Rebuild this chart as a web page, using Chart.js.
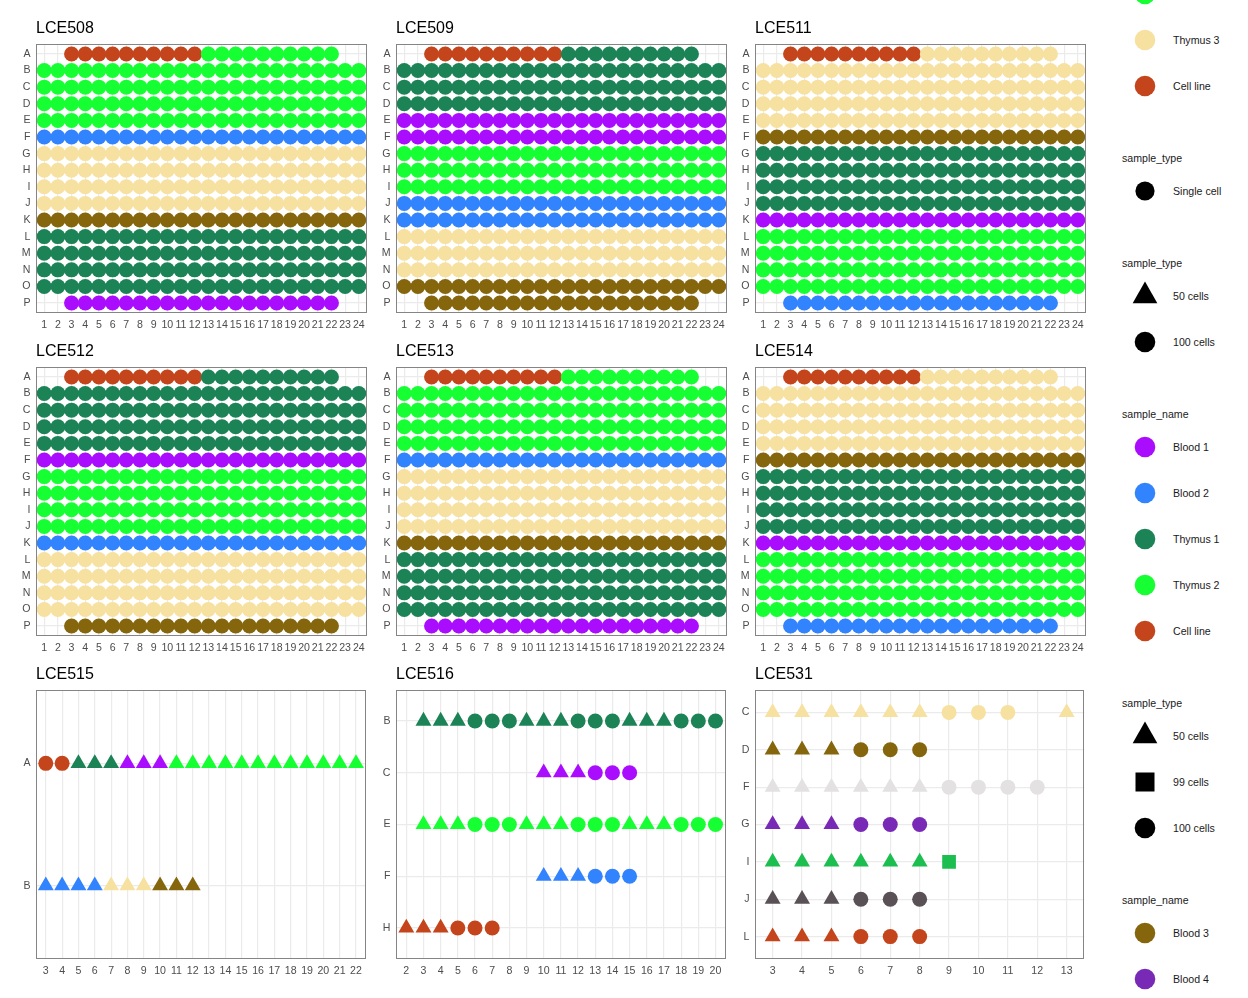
<!DOCTYPE html>
<html><head><meta charset="utf-8">
<script src="https://cdn.jsdelivr.net/npm/chart.js@4.4.1/dist/chart.umd.min.js"></script>
<style>
html,body{margin:0;padding:0;background:#fff;width:1248px;height:998px;overflow:hidden;position:relative;font-family:"Liberation Sans",Arial,sans-serif;}
.panel{position:absolute;}
.lg-title,.lg-text{position:absolute;font-size:10.6px;color:#1a1a1a;line-height:14px;height:14px;white-space:nowrap;}
svg.lg{position:absolute;overflow:visible;}
</style></head><body>
<script>
// ---------------- data ----------------
const sampleNames  = ['Blood 1','Blood 2','Blood 3','Blood 4','Thymus 1','Thymus 2','Thymus 3','Cell line','Sample F','Sample I','Sample J'];
const sampleColors = ['#AA0DFE','#3283FE','#85660D','#782AB6','#1C8356','#16FF32','#F7E1A0','#C4451C','#E4E1E3','#1CBE4F','#5A5156'];
const sampleTypes  = ['Single cell','50 cells','99 cells','100 cells'];
const typeShapes   = ['circle','triangle','rect','circle'];

const rows384 = ['A','B','C','D','E','F','G','H','I','J','K','L','M','N','O','P'];
const cols384 = [1,2,3,4,5,6,7,8,9,10,11,12,13,14,15,16,17,18,19,20,21,22,23,24];
const rowsLCE515 = ['A','B'];
const colsLCE515 = [3,4,5,6,7,8,9,10,11,12,13,14,15,16,17,18,19,20,21,22];
const rowsLCE516 = ['B','C','E','F','H'];
const colsLCE516 = [2,3,4,5,6,7,8,9,10,11,12,13,14,15,16,17,18,19,20];
const rowsLCE531 = ['C','D','F','G','I','J','L'];
const colsLCE531 = [3,4,5,6,7,8,9,10,11,12,13];

// [row, first column, last column, sample_name, sample_type]
const LCE508_wells = [
 ['A',3,12,'Cell line','Single cell'],['A',13,22,'Thymus 2','Single cell'],
 ['B',1,24,'Thymus 2','Single cell'],['C',1,24,'Thymus 2','Single cell'],['D',1,24,'Thymus 2','Single cell'],['E',1,24,'Thymus 2','Single cell'],
 ['F',1,24,'Blood 2','Single cell'],
 ['G',1,24,'Thymus 3','Single cell'],['H',1,24,'Thymus 3','Single cell'],['I',1,24,'Thymus 3','Single cell'],['J',1,24,'Thymus 3','Single cell'],
 ['K',1,24,'Blood 3','Single cell'],
 ['L',1,24,'Thymus 1','Single cell'],['M',1,24,'Thymus 1','Single cell'],['N',1,24,'Thymus 1','Single cell'],['O',1,24,'Thymus 1','Single cell'],
 ['P',3,22,'Blood 1','Single cell']
];
const LCE509_wells = [
 ['A',3,12,'Cell line','Single cell'],['A',13,22,'Thymus 1','Single cell'],
 ['B',1,24,'Thymus 1','Single cell'],['C',1,24,'Thymus 1','Single cell'],['D',1,24,'Thymus 1','Single cell'],
 ['E',1,24,'Blood 1','Single cell'],['F',1,24,'Blood 1','Single cell'],
 ['G',1,24,'Thymus 2','Single cell'],['H',1,24,'Thymus 2','Single cell'],['I',1,24,'Thymus 2','Single cell'],
 ['J',1,24,'Blood 2','Single cell'],['K',1,24,'Blood 2','Single cell'],
 ['L',1,24,'Thymus 3','Single cell'],['M',1,24,'Thymus 3','Single cell'],['N',1,24,'Thymus 3','Single cell'],
 ['O',1,24,'Blood 3','Single cell'],
 ['P',3,22,'Blood 3','Single cell']
];
const LCE511_wells = [
 ['A',3,12,'Cell line','Single cell'],['A',13,22,'Thymus 3','Single cell'],
 ['B',1,24,'Thymus 3','Single cell'],['C',1,24,'Thymus 3','Single cell'],['D',1,24,'Thymus 3','Single cell'],['E',1,24,'Thymus 3','Single cell'],
 ['F',1,24,'Blood 3','Single cell'],
 ['G',1,24,'Thymus 1','Single cell'],['H',1,24,'Thymus 1','Single cell'],['I',1,24,'Thymus 1','Single cell'],['J',1,24,'Thymus 1','Single cell'],
 ['K',1,24,'Blood 1','Single cell'],
 ['L',1,24,'Thymus 2','Single cell'],['M',1,24,'Thymus 2','Single cell'],['N',1,24,'Thymus 2','Single cell'],['O',1,24,'Thymus 2','Single cell'],
 ['P',3,22,'Blood 2','Single cell']
];
const LCE512_wells = [
 ['A',3,12,'Cell line','Single cell'],['A',13,22,'Thymus 1','Single cell'],
 ['B',1,24,'Thymus 1','Single cell'],['C',1,24,'Thymus 1','Single cell'],['D',1,24,'Thymus 1','Single cell'],['E',1,24,'Thymus 1','Single cell'],
 ['F',1,24,'Blood 1','Single cell'],
 ['G',1,24,'Thymus 2','Single cell'],['H',1,24,'Thymus 2','Single cell'],['I',1,24,'Thymus 2','Single cell'],['J',1,24,'Thymus 2','Single cell'],
 ['K',1,24,'Blood 2','Single cell'],
 ['L',1,24,'Thymus 3','Single cell'],['M',1,24,'Thymus 3','Single cell'],['N',1,24,'Thymus 3','Single cell'],['O',1,24,'Thymus 3','Single cell'],
 ['P',3,22,'Blood 3','Single cell']
];
const LCE513_wells = [
 ['A',3,12,'Cell line','Single cell'],['A',13,22,'Thymus 2','Single cell'],
 ['B',1,24,'Thymus 2','Single cell'],['C',1,24,'Thymus 2','Single cell'],['D',1,24,'Thymus 2','Single cell'],['E',1,24,'Thymus 2','Single cell'],
 ['F',1,24,'Blood 2','Single cell'],
 ['G',1,24,'Thymus 3','Single cell'],['H',1,24,'Thymus 3','Single cell'],['I',1,24,'Thymus 3','Single cell'],['J',1,24,'Thymus 3','Single cell'],
 ['K',1,24,'Blood 3','Single cell'],
 ['L',1,24,'Thymus 1','Single cell'],['M',1,24,'Thymus 1','Single cell'],['N',1,24,'Thymus 1','Single cell'],['O',1,24,'Thymus 1','Single cell'],
 ['P',3,22,'Blood 1','Single cell']
];
const LCE514_wells = [
 ['A',3,12,'Cell line','Single cell'],['A',13,22,'Thymus 3','Single cell'],
 ['B',1,24,'Thymus 3','Single cell'],['C',1,24,'Thymus 3','Single cell'],['D',1,24,'Thymus 3','Single cell'],['E',1,24,'Thymus 3','Single cell'],
 ['F',1,24,'Blood 3','Single cell'],
 ['G',1,24,'Thymus 1','Single cell'],['H',1,24,'Thymus 1','Single cell'],['I',1,24,'Thymus 1','Single cell'],['J',1,24,'Thymus 1','Single cell'],
 ['K',1,24,'Blood 1','Single cell'],
 ['L',1,24,'Thymus 2','Single cell'],['M',1,24,'Thymus 2','Single cell'],['N',1,24,'Thymus 2','Single cell'],['O',1,24,'Thymus 2','Single cell'],
 ['P',3,22,'Blood 2','Single cell']
];
const LCE515_wells = [
 ['A',3,4,'Cell line','100 cells'],['A',5,7,'Thymus 1','50 cells'],['A',8,10,'Blood 1','50 cells'],['A',11,22,'Thymus 2','50 cells'],
 ['B',3,6,'Blood 2','50 cells'],['B',7,9,'Thymus 3','50 cells'],['B',10,12,'Blood 3','50 cells']
];
const LCE516_wells = [
 ['B',3,5,'Thymus 1','50 cells'],['B',6,8,'Thymus 1','100 cells'],['B',9,11,'Thymus 1','50 cells'],
 ['B',12,14,'Thymus 1','100 cells'],['B',15,17,'Thymus 1','50 cells'],['B',18,20,'Thymus 1','100 cells'],
 ['C',10,12,'Blood 1','50 cells'],['C',13,15,'Blood 1','100 cells'],
 ['E',3,5,'Thymus 2','50 cells'],['E',6,8,'Thymus 2','100 cells'],['E',9,11,'Thymus 2','50 cells'],
 ['E',12,14,'Thymus 2','100 cells'],['E',15,17,'Thymus 2','50 cells'],['E',18,20,'Thymus 2','100 cells'],
 ['F',10,12,'Blood 2','50 cells'],['F',13,15,'Blood 2','100 cells'],
 ['H',2,4,'Cell line','50 cells'],['H',5,7,'Cell line','100 cells']
];
const LCE531_wells = [
 ['C',3,8,'Thymus 3','50 cells'],['C',9,11,'Thymus 3','100 cells'],['C',13,13,'Thymus 3','50 cells'],
 ['D',3,5,'Blood 3','50 cells'],['D',6,8,'Blood 3','100 cells'],
 ['F',3,8,'Sample F','50 cells'],['F',9,12,'Sample F','100 cells'],
 ['G',3,5,'Blood 4','50 cells'],['G',6,8,'Blood 4','100 cells'],
 ['I',3,8,'Sample I','50 cells'],['I',9,9,'Sample I','99 cells'],
 ['J',3,5,'Sample J','50 cells'],['J',6,8,'Sample J','100 cells'],
 ['L',3,5,'Cell line','50 cells'],['L',6,8,'Cell line','100 cells']
];

const plateNames = ['LCE508','LCE509','LCE511','LCE512','LCE513','LCE514','LCE515','LCE516','LCE531'];

// legend (clipped column on the right)
const legendGroupTitles = [null,'sample_type','sample_type','sample_name','sample_type','sample_name'];
const legendGroupKinds  = ['name','type','type','name','type','name'];
const legendGroupItems  = [
 ['Thymus 2','Thymus 3','Cell line'],
 ['Single cell'],
 ['50 cells','100 cells'],
 ['Blood 1','Blood 2','Thymus 1','Thymus 2','Cell line'],
 ['50 cells','99 cells','100 cells'],
 ['Blood 3','Blood 4']
];

// ---------------- layout / drawing ----------------
const FONT = '"Liberation Sans", Arial, sans-serif';
const panelLeft = [36, 396, 755];
const panelTop  = [44, 367, 690];
const panelW = 331, panelH = 269;
const yAxisW = 34, xAxisH = 24, titleH = 44, padR = 8;
const shapeRadius = {circle: 7.5, triangle: 9.2, rect: 9.7};

const panels = [
 {wells: LCE508_wells, rows: rows384, cols: cols384},
 {wells: LCE509_wells, rows: rows384, cols: cols384},
 {wells: LCE511_wells, rows: rows384, cols: cols384},
 {wells: LCE512_wells, rows: rows384, cols: cols384},
 {wells: LCE513_wells, rows: rows384, cols: cols384},
 {wells: LCE514_wells, rows: rows384, cols: cols384},
 {wells: LCE515_wells, rows: rowsLCE515, cols: colsLCE515},
 {wells: LCE516_wells, rows: rowsLCE516, cols: colsLCE516},
 {wells: LCE531_wells, rows: rowsLCE531, cols: colsLCE531}
];

const borderPlugin = {
  id: 'panelBorder',
  afterDraw(chart) {
    const {ctx, chartArea: a} = chart;
    ctx.save();
    ctx.strokeStyle = '#858585';
    ctx.lineWidth = 1;
    ctx.strokeRect(Math.round(a.left) + 0.5, Math.round(a.top) + 0.5,
                   Math.round(a.right - a.left) - 1, Math.round(a.bottom - a.top) - 1);
    ctx.restore();
  }
};

function colorOf(s) { return sampleColors[sampleNames.indexOf(s)]; }
function shapeOf(t) { return typeShapes[sampleTypes.indexOf(t)]; }

panels.forEach((p, k) => {
  const gx = k % 3, gy = Math.floor(k / 3);
  const L = panelLeft[gx], T = panelTop[gy];
  const W = panelW + yAxisW + padR, H = panelH + titleH + xAxisH;
  const div = document.createElement('div');
  div.className = 'panel';
  div.style.left = (L - yAxisW) + 'px';
  div.style.top = (T - titleH) + 'px';
  div.style.width = W + 'px';
  div.style.height = H + 'px';
  const cv = document.createElement('canvas');
  cv.width = W; cv.height = H;
  cv.style.width = W + 'px'; cv.style.height = H + 'px';
  div.appendChild(cv);
  document.body.appendChild(div);

  const pts = [], bg = [], st = [], rad = [];
  p.wells.forEach(([r, c0, c1, s, t]) => {
    const yi = p.rows.indexOf(r) + 1;
    for (let c = c0; c <= c1; c++) {
      pts.push({x: c, y: yi});
      bg.push(colorOf(s));
      const sh = shapeOf(t);
      st.push(sh);
      rad.push(shapeRadius[sh]);
    }
  });

  const tickFont = {family: FONT, size: 10.6};
  new Chart(cv, {
    type: 'scatter',
    data: {datasets: [{
      data: pts,
      pointBackgroundColor: bg,
      pointStyle: st,
      pointRadius: rad,
      pointHoverRadius: rad,
      pointBorderWidth: 0,
      pointBorderColor: 'rgba(0,0,0,0)'
    }]},
    options: {
      responsive: false,
      devicePixelRatio: 1,
      animation: false,
      events: [],
      layout: {padding: {left: 0, top: 0, right: padR, bottom: 0}},
      plugins: {
        legend: {display: false},
        tooltip: {enabled: false},
        title: {
          display: true, text: plateNames[k], align: 'start', fullSize: false,
          color: '#000000',
          font: {family: FONT, size: 16, weight: 'normal', lineHeight: 1.2},
          padding: {top: 18.9, bottom: 5.9}
        }
      },
      scales: {
        x: {
          type: 'linear', bounds: 'data',
          min: p.cols[0] - 0.6, max: p.cols[p.cols.length - 1] + 0.6,
          afterBuildTicks: s => { s.ticks = p.cols.map(v => ({value: v})); },
          afterFit: s => { s.height = xAxisH; },
          ticks: {autoSkip: false, maxRotation: 0, minRotation: 0, padding: 5.8,
                  color: '#4D4D4D', font: tickFont, callback: v => String(v)},
          grid: {color: '#EBEBEB', lineWidth: 1.2, drawTicks: false},
          border: {display: false}
        },
        y: {
          type: 'linear', bounds: 'data', reverse: true,
          min: 0.4, max: p.rows.length + 0.6,
          afterBuildTicks: s => { s.ticks = p.rows.map((r, i) => ({value: i + 1})); },
          afterFit: s => { s.width = yAxisW; },
          ticks: {autoSkip: false, padding: 5.5, color: '#4D4D4D', font: tickFont,
                  callback: v => p.rows[Math.round(v) - 1]},
          grid: {color: '#EBEBEB', lineWidth: 1.2, drawTicks: false},
          border: {display: false}
        }
      }
    },
    plugins: [borderPlugin]
  });
});

// legend column
(function drawLegend() {
  const keyX = 1144.5, textX = 1173, titleX = 1122;
  const step = 46, titleGap = 71.5, afterTitle = 33.5;
  let y = -6;
  const NS = 'http://www.w3.org/2000/svg';
  function addText(cls, x, yc, txt) {
    const d = document.createElement('div');
    d.className = cls;
    d.style.left = x + 'px';
    d.style.top = (yc - 7) + 'px';
    d.textContent = txt;
    document.body.appendChild(d);
  }
  function addKey(kind, item, yc) {
    const svg = document.createElementNS(NS, 'svg');
    svg.setAttribute('class', 'lg');
    svg.setAttribute('width', 30); svg.setAttribute('height', 30);
    svg.style.left = (keyX - 15) + 'px';
    svg.style.top = (yc - 15) + 'px';
    let el;
    if (kind === 'name') {
      el = document.createElementNS(NS, 'circle');
      el.setAttribute('cx', 15); el.setAttribute('cy', 15); el.setAttribute('r', 10.3);
      el.setAttribute('fill', colorOf(item));
    } else {
      const sh = shapeOf(item);
      if (sh === 'triangle') {
        const w = 24.7, h = 21.7;
        el = document.createElementNS(NS, 'polygon');
        el.setAttribute('points', `15,${15 - 2*h/3} ${15 + w/2},${15 + h/3} ${15 - w/2},${15 + h/3}`);
      } else if (sh === 'rect') {
        el = document.createElementNS(NS, 'rect');
        el.setAttribute('x', 15 - 9.5); el.setAttribute('y', 15 - 9.5);
        el.setAttribute('width', 19); el.setAttribute('height', 19);
      } else {
        el = document.createElementNS(NS, 'circle');
        el.setAttribute('cx', 15); el.setAttribute('cy', 15);
        el.setAttribute('r', item === 'Single cell' ? 9.6 : 10.3);
      }
      el.setAttribute('fill', '#000000');
    }
    svg.appendChild(el);
    document.body.appendChild(svg);
  }
  legendGroupItems.forEach((items, g) => {
    if (g > 0) {
      y += titleGap;
      addText('lg-title', titleX, y, legendGroupTitles[g]);
      y += afterTitle;
    }
    items.forEach((it, i) => {
      if (i > 0) y += step;
      addKey(legendGroupKinds[g], it, y);
      if (y > 2) addText('lg-text', textX, y, it);
    });
  });
})();
</script>
</body></html>
